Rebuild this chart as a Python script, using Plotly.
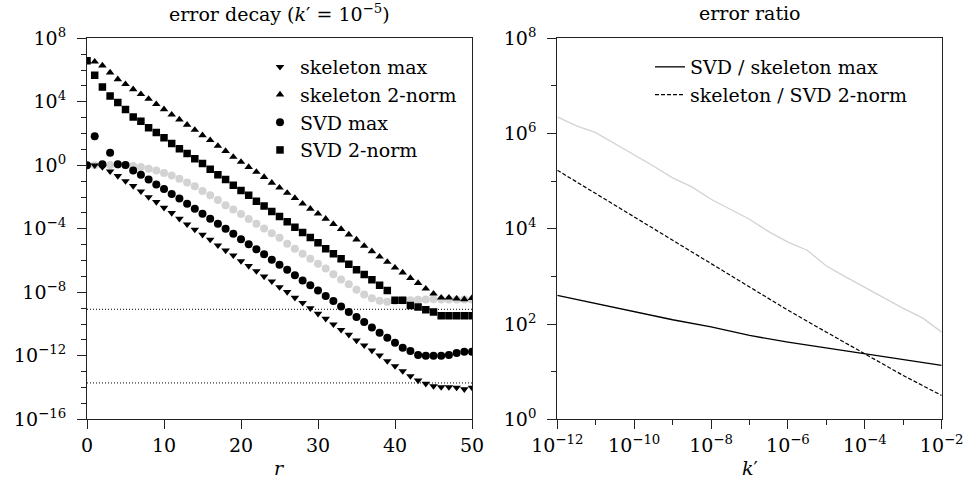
import plotly.graph_objects as go

# ---------------- data (left panel) ----------------
r = list(range(51))
skel_max_log10 = [0.0, 0.0, -0.1, -0.38, -0.67, -0.99, -1.3, -1.64, -2.0, -2.31,
                  -2.67, -3.0, -3.36, -3.72, -4.05, -4.37, -4.68, -5.04, -5.36, -5.67,
                  -6.03, -6.34, -6.66, -7.0, -7.31, -7.67, -7.98, -8.34, -8.66, -9.0,
                  -9.35, -9.66, -10.02, -10.36, -10.67, -11.03, -11.34, -11.66, -11.97, -12.33,
                  -12.65, -12.96, -13.28, -13.55, -13.76, -13.91, -13.97, -13.97, -14.0, -14.1,
                  -14.0]
skel_2n_log10 = [6.58, 6.53, 6.28, 5.84, 5.42, 5.11, 4.79, 4.48, 4.18, 3.85,
                 3.53, 3.19, 2.88, 2.55, 2.23, 1.89, 1.58, 1.22, 0.9, 0.53,
                 0.21, -0.11, -0.42, -0.74, -1.1, -1.41, -1.74, -2.06, -2.42, -2.74,
                 -3.05, -3.37, -3.7, -4.02, -4.36, -4.68, -5.08, -5.42, -5.76, -6.09,
                 -6.45, -6.76, -7.1, -7.42, -7.77, -8.09, -8.34, -8.34, -8.4, -8.44,
                 -8.36]
svd_max_log10 = [0.0, 1.83, 0.06, 0.79, 0.06, 0.02, -0.32, -0.59, -0.9, -1.21,
                 -1.5, -1.81, -2.09, -2.42, -2.73, -3.05, -3.36, -3.68, -3.99, -4.31,
                 -4.66, -4.98, -5.29, -5.61, -5.95, -6.26, -6.58, -6.93, -7.25, -7.56,
                 -7.88, -8.24, -8.55, -8.89, -9.24, -9.56, -9.87, -10.21, -10.55, -10.86,
                 -11.18, -11.49, -11.7, -11.95, -12.0, -12.0, -12.0, -11.95, -11.83, -11.74,
                 -11.74]
svd_2n_log10 = [6.58, 5.67, 4.94, 4.37, 3.95, 3.51, 3.05, 2.77, 2.37, 2.06,
                1.74, 1.37, 1.05, 0.74, 0.42, 0.11, -0.25, -0.59, -0.9, -1.26,
                -1.58, -1.89, -2.26, -2.57, -2.91, -3.23, -3.55, -3.91, -4.23, -4.55,
                -4.88, -5.25, -5.57, -5.88, -6.24, -6.58, -6.88, -7.21, -7.56, -7.88,
                -8.5, -8.5, -8.83, -8.93, -9.1, -9.24, -9.47, -9.47, -9.47, -9.47,
                -9.47]
gray_log10 = [0.0, 0.0, 0.0, 0.02, 0.03, 0.01, -0.04, -0.1, -0.21, -0.32,
              -0.48, -0.65, -0.85, -1.09, -1.32, -1.62, -1.89, -2.18, -2.52, -2.79,
              -3.07, -3.38, -3.68, -3.98, -4.28, -4.57, -4.94, -5.25, -5.57, -5.88,
              -6.2, -6.5, -6.86, -7.19, -7.5, -7.84, -8.14, -8.38, -8.53, -8.6,
              -8.55, -8.52, -8.5, -8.47, -8.45, -8.43, -8.45, -8.45, -8.45, -8.45,
              -8.45]
ref_levels = [8.5e-10, 1.95e-14]

# ---------------- data (right panel) ----------------
k_exp = [-12, -11, -10, -9, -8, -7, -6, -5, -4, -3, -2]
ratio_max_log10 = [2.6, 2.43, 2.25, 2.09, 1.94, 1.76, 1.62, 1.5, 1.38, 1.25, 1.13]
ratio_2n_log10 = [5.23, 4.74, 4.25, 3.76, 3.27, 2.78, 2.29, 1.83, 1.38, 0.92, 0.5]
k_exp_gray = [-12, -11.5, -11, -10.5, -10, -9.5, -9, -8.5, -8, -7.5, -7,
              -6.5, -6, -5.5, -5, -4.5, -4, -3.5, -3, -2.5, -2]
ratio_gray_log10 = [6.35, 6.16, 6.02, 5.79, 5.55, 5.32, 5.07, 4.88, 4.62, 4.41, 4.2,
                    3.94, 3.72, 3.55, 3.22, 2.99, 2.77, 2.56, 2.33, 2.13, 1.83]

left_yticks = [8, 4, 0, -4, -8, -12, -16]
left_xticks = [0, 10, 20, 30, 40, 50]
right_yticks = [0, 2, 4, 6, 8]
right_xticks = [-12, -10, -8, -6, -4, -2]

# ---------------- helpers ----------------
def p10(vals):
    return [10.0 ** v for v in vals]

def sup(e):
    s = str(e).replace("-", "\u2212")
    return f"10<sup>{s}</sup>"

FONT = "DejaVu Serif"
W, H = 966, 485
L_X0, L_X1 = 87, 472
R_X0, R_X1 = 557.3, 941.7
Y_TOP, Y_BOT = 38.3, 419.3

fig = go.Figure()

# left panel
for lvl in ref_levels:
    fig.add_trace(go.Scatter(x=[r[0], r[-1]], y=[lvl, lvl], mode="lines",
                             line=dict(color="black", width=1, dash="1px,2px"),
                             showlegend=False, hoverinfo="skip", xaxis="x", yaxis="y"))

fig.add_trace(go.Scatter(x=r, y=p10(gray_log10), mode="markers",
                         marker=dict(symbol="circle", size=8, color="#d3d3d3"),
                         showlegend=False, xaxis="x", yaxis="y"))
series = [
    ("skeleton max", skel_max_log10, "triangle-down", 7.5),
    ("skeleton 2-norm", skel_2n_log10, "triangle-up", 7.5),
    ("SVD max", svd_max_log10, "circle", 8),
    ("SVD 2-norm", svd_2n_log10, "square", 7.5),
]
for name, vals, sym, sz in series:
    fig.add_trace(go.Scatter(x=r, y=p10(vals), mode="markers", name=name,
                             marker=dict(symbol=sym, size=sz, color="black"),
                             legend="legend", xaxis="x", yaxis="y"))

# right panel
fig.add_trace(go.Scatter(x=p10(k_exp_gray), y=p10(ratio_gray_log10), mode="lines",
                         line=dict(color="#d3d3d3", width=1.3), showlegend=False,
                         xaxis="x2", yaxis="y2"))
fig.add_trace(go.Scatter(x=p10(k_exp), y=p10(ratio_max_log10), mode="lines",
                         name="SVD / skeleton max", line=dict(color="black", width=1.3),
                         legend="legend2", xaxis="x2", yaxis="y2"))
fig.add_trace(go.Scatter(x=p10(k_exp), y=p10(ratio_2n_log10), mode="lines",
                         name="skeleton / SVD 2-norm",
                         line=dict(color="black", width=1.2, dash="4px,2px"),
                         legend="legend2", xaxis="x2", yaxis="y2"))

axis_common = dict(showline=True, linecolor="#222", linewidth=1.2, mirror=True,
                   ticks="outside", ticklen=9, tickwidth=1.2, tickcolor="#222",
                   showgrid=False, zeroline=False,
                   tickfont=dict(family=FONT, size=19, color="black"))

left_minor = [10.0 ** e for e in range(-16, 9) if e not in left_yticks]
right_minor_y = [10.0 ** e for e in [1, 3, 5, 7]]
right_minor_x = [10.0 ** e for e in [-11, -9, -7, -5, -3]]

ydom = [1 - Y_BOT / H, 1 - Y_TOP / H]
fig.update_layout(
    width=W, height=H, margin=dict(l=0, r=0, t=0, b=0, autoexpand=False),
    paper_bgcolor="white", plot_bgcolor="white",
    font=dict(family=FONT, color="black"),
    xaxis=dict(domain=[L_X0 / W, L_X1 / W], range=[0, 50], tickvals=left_xticks,
               anchor="y", **axis_common),
    yaxis=dict(domain=ydom, type="log", range=[-16, 8],
               tickvals=[10.0 ** e for e in left_yticks],
               ticktext=[sup(e) for e in left_yticks],
               ticklabelstandoff=7,
               minor=dict(tickvals=left_minor, ticks="outside", ticklen=5,
                          tickwidth=1, tickcolor="#222"),
               anchor="x", **axis_common),
    xaxis2=dict(domain=[R_X0 / W, R_X1 / W], type="log", range=[-12, -2],
                tickvals=[10.0 ** e for e in right_xticks],
                ticktext=[sup(e) for e in right_xticks],
                minor=dict(tickvals=right_minor_x, ticks="outside", ticklen=5,
                           tickwidth=1, tickcolor="#222"),
                anchor="y2", **axis_common),
    yaxis2=dict(domain=ydom, type="log", range=[0, 8],
                tickvals=[10.0 ** e for e in right_yticks],
                ticktext=[sup(e) for e in right_yticks],
                ticklabelstandoff=7,
                minor=dict(tickvals=right_minor_y, ticks="outside", ticklen=5,
                           tickwidth=1, tickcolor="#222"),
                anchor="x2", **axis_common),
    legend=dict(x=260 / W, y=1 - 48 / H, xanchor="left", yanchor="top",
                bgcolor="rgba(0,0,0,0)", font=dict(family=FONT, size=19),
                itemwidth=30, tracegroupgap=0),
    legend2=dict(x=650 / W, y=1 - 48 / H, xanchor="left", yanchor="top",
                 bgcolor="rgba(0,0,0,0)", font=dict(family=FONT, size=19),
                 itemwidth=30),
    annotations=[
        dict(text="error decay (<i>k</i>\u2032 = 10<sup>\u22125</sup>)", x=(L_X0 + L_X1) / 2 / W,
             y=1 - 13 / H, xref="paper", yref="paper", showarrow=False,
             font=dict(family=FONT, size=19), xanchor="center", yanchor="middle"),
        dict(text="error ratio", x=(R_X0 + R_X1) / 2 / W, y=1 - 13 / H,
             xref="paper", yref="paper", showarrow=False,
             font=dict(family=FONT, size=19), xanchor="center", yanchor="middle"),
        dict(text="<i>r</i>", x=(L_X0 + L_X1) / 2 / W, y=1 - 468 / H,
             xref="paper", yref="paper", showarrow=False,
             font=dict(family=FONT, size=19), xanchor="center", yanchor="middle"),
        dict(text="<i>k</i>\u2032", x=(R_X0 + R_X1) / 2 / W, y=1 - 468 / H,
             xref="paper", yref="paper", showarrow=False,
             font=dict(family=FONT, size=19), xanchor="center", yanchor="middle"),
    ],
)

fig.write_html("out.html", config={"displayModeBar": False},
               post_script="document.body.style.margin='0';")
